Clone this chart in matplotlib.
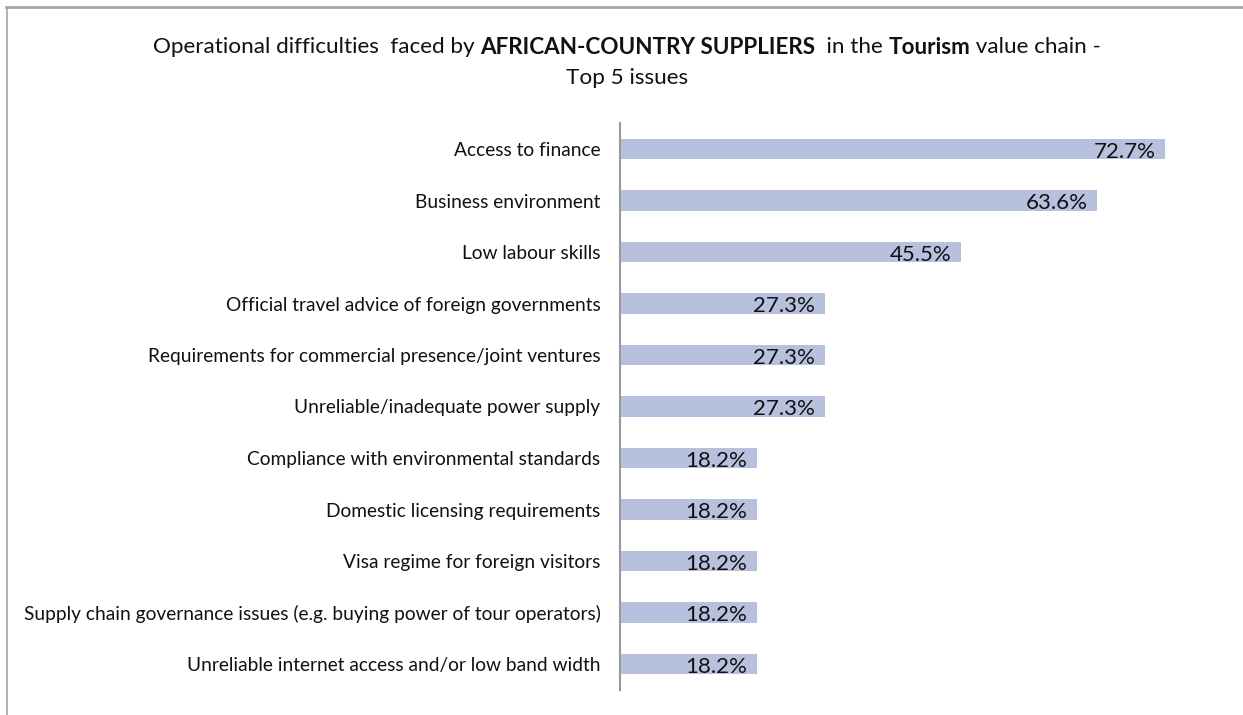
import matplotlib
matplotlib.use("Agg")
import matplotlib.pyplot as plt
from matplotlib.lines import Line2D

categories = [
    "Access to finance",
    "Business environment",
    "Low labour skills",
    "Official travel advice of foreign governments",
    "Requirements for commercial presence/joint ventures",
    "Unreliable/inadequate power supply",
    "Compliance with environmental standards",
    "Domestic licensing requirements",
    "Visa regime for foreign visitors",
    "Supply chain governance issues (e.g. buying power of tour operators)",
    "Unreliable internet access and/or low band width",
]
values = [72.7, 63.6, 45.5, 27.3, 27.3, 27.3, 18.2, 18.2, 18.2, 18.2, 18.2]

title_line1 = [
    ("Operational difficulties  faced by ", "normal"),
    ("AFRICAN-COUNTRY SUPPLIERS", "bold"),
    ("  in the ", "normal"),
    ("Tourism", "bold"),
    (" value chain -", "normal"),
]
title_line2 = "Top 5 issues"

FONT = "Lato"
BAR_COLOR = "#B7C1DE"
W, H = 1243, 715

fig = plt.figure(figsize=(W / 100, H / 100), dpi=100)
fig.patch.set_facecolor("white")

# axes spans the bar area: left edge is the vertical axis line
ax_left, ax_right = 620, 1220
ax_top, ax_bottom = 123.25, 689.75
ax = fig.add_axes([ax_left / W, 1 - ax_bottom / H,
                   (ax_right - ax_left) / W, (ax_bottom - ax_top) / H])

y = list(range(len(categories)))
ax.barh(y, values, height=0.39, color=BAR_COLOR, edgecolor="none")
ax.set_xlim(0, 80)
ax.set_ylim(len(categories) - 0.5, -0.5)

for yi, v in zip(y, values):
    ax.annotate(f"{v:.1f}%", xy=(v, yi), xytext=(-7, -2), textcoords="offset points",
                ha="right", va="center", fontsize=16, family=FONT, color="#111111")

ax.set_yticks(y)
ax.set_yticklabels(categories, fontsize=13.8, family=FONT, color="#111111")
ax.tick_params(axis="y", length=0, pad=14)
ax.set_xticks([])
for side in ("top", "right", "bottom"):
    ax.spines[side].set_visible(False)
ax.spines["left"].set_color("#9a9a9a")
ax.spines["left"].set_linewidth(1.5)

# frame lines along the top and left edges
fig.add_artist(Line2D([6 / W, 1], [1 - 6.5 / H, 1 - 6.5 / H], color="#a6a6a6", lw=2))
fig.add_artist(Line2D([6.5 / W, 6.5 / W], [0, 1 - 6.5 / H], color="#a6a6a6", lw=1.2))

# two-line title with bold segments in the first line
fig.canvas.draw()
renderer = fig.canvas.get_renderer()
pieces = []
for txt, weight in title_line1:
    t = fig.text(0, 1 - 47 / H, txt, fontsize=16.2, family=FONT, weight=weight,
                 ha="left", va="center", color="#111111")
    pieces.append(t)
widths = [p.get_window_extent(renderer).width for p in pieces]
total = sum(widths)
cx = 627
x0 = cx - total / 2
for p, w in zip(pieces, widths):
    p.set_x(x0 / W)
    x0 += w
fig.text(cx / W, 1 - 78 / H, title_line2, fontsize=16.2, family=FONT,
         ha="center", va="center", color="#111111")

fig.savefig("out.png", dpi=100)
